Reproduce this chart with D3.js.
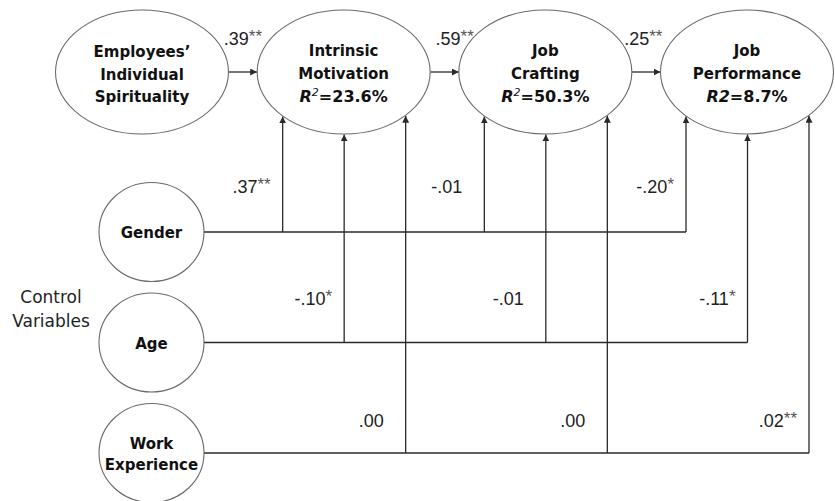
<!DOCTYPE html>
<html><head><meta charset="utf-8">
<script src="https://cdn.jsdelivr.net/npm/d3@7"></script>
<style>
html,body{margin:0;padding:0;background:#fff;}
svg{display:block;}
</style></head>
<body>
<svg id="c" width="835" height="501"></svg>
<script>
// ---- data ----
const mainLabels = [["Employees’","Individual","Spirituality"],["Intrinsic","Motivation"],["Job","Crafting"],["Job","Performance"]];
const r2Values = [null, "23.6%", "50.3%", "8.7%"];
const r2Superscript = [null, true, true, false];
const pathCoefs = [".39", ".59", ".25"];
const pathStars = ["**", "**", "**"];
const controlLabels = [["Gender"],["Age"],["Work","Experience"]];
const controlCoefs = [[".37","-.01","-.20"],["-.10","-.01","-.11"],[".00",".00",".02"]];
const controlStars = [["**","","*"],["*","","*"],["","","**"]];
const sideTitle = ["Control","Variables"];

// ---- layout ----
const svg = d3.select("#c");
const x = d3.scaleLinear().domain([0,3]).range([142,747]);
const rowY = d3.scalePoint().domain([0,1,2]).range([232,453]);
const offX = d3.scalePoint().domain([0,1,2]).range([-61,62]);
const cy = 72, rx = 86.5, ry = 62;
const ctrlX = 151.5, ctrlR = 52.5;
const lineCol = "#2a2a2a", ellCol = "#6a6a6a";
const nodeFont = "DejaVu Sans, Verdana, sans-serif";
const numFont = "Liberation Sans, Arial, sans-serif";

const defs = svg.append("defs");
defs.append("marker").attr("id","ah").attr("viewBox","0 0 10 10").attr("refX",10).attr("refY",5)
  .attr("markerWidth",7).attr("markerHeight",7).attr("markerUnits","userSpaceOnUse").attr("orient","auto")
  .append("path").attr("d","M0,0L10,5L0,10Z").attr("fill",lineCol);

function ellBottom(dx){ return cy + ry*Math.sqrt(Math.max(0,1-(dx/rx)*(dx/rx))); }

// control lines
const gL = svg.append("g").attr("stroke",lineCol).attr("stroke-width",1.3).attr("fill","none");
controlCoefs.forEach((row,k)=>{
  const y = rowY(k);
  const lastX = x(3)+offX(k);
  gL.append("line").attr("x1",ctrlX+ctrlR).attr("y1",y).attr("x2",lastX).attr("y2",y);
  row.forEach((v,j)=>{
    const tx = x(j+1)+offX(k);
    gL.append("line").attr("x1",tx).attr("y1",y).attr("x2",tx).attr("y2",ellBottom(offX(k))+0.5)
      .attr("marker-end","url(#ah)");
  });
});

// main arrows
pathCoefs.forEach((v,i)=>{
  gL.append("line").attr("x1",x(i)+rx).attr("y1",cy).attr("x2",x(i+1)-rx).attr("y2",cy)
    .attr("marker-end","url(#ah)");
});

function boldText(g){
  return g.append("text").attr("text-anchor","middle").attr("font-family",nodeFont)
    .attr("font-weight","bold").attr("font-size",15).attr("fill","#111");
}

// main ellipses
const gN = svg.append("g");
mainLabels.forEach((lines,i)=>{
  gN.append("ellipse").attr("cx",x(i)).attr("cy",cy).attr("rx",rx).attr("ry",ry)
    .attr("fill","#fff").attr("stroke",ellCol).attr("stroke-width",1.1);
  const t = boldText(gN);
  const base = lines.length===3 ? [57,80,102] : [56,79];
  lines.forEach((s,l)=>t.append("tspan").attr("x",x(i)).attr("y",base[l]).text(s));
  if (r2Values[i]) {
    const t2 = boldText(gN).attr("font-size",16).attr("x",x(i)).attr("y",102);
    t2.append("tspan").attr("font-style","italic").text("R");
    if (r2Superscript[i]) {
      t2.append("tspan").attr("font-style","italic").attr("font-weight","normal").attr("font-size",11).attr("dy",-6).text("2");
      t2.append("tspan").attr("dy",6).text("=" + r2Values[i]);
    } else {
      t2.append("tspan").attr("font-style","italic").text("2");
      t2.append("tspan").text("=" + r2Values[i]);
    }
  }
});

// control circles
controlLabels.forEach((lines,k)=>{
  gN.append("ellipse").attr("cx",ctrlX).attr("cy",rowY(k)).attr("rx",ctrlR).attr("ry",49.5)
    .attr("fill","#fff").attr("stroke",ellCol).attr("stroke-width",1.1);
  const t = boldText(gN);
  const base = lines.length===1 ? [rowY(k)+6] : [rowY(k)-4, rowY(k)+17];
  lines.forEach((s,l)=>t.append("tspan").attr("x",ctrlX).attr("y",base[l]).text(s));
});

// side title
const st = svg.append("text").attr("text-anchor","middle").attr("font-family",nodeFont)
  .attr("font-size",17).attr("fill","#222");
sideTitle.forEach((s,l)=>st.append("tspan").attr("x",51).attr("y",303+l*24).text(s));

// coefficient labels
function coef(g, xx, yy, v, stars, anchor){
  const t = g.append("text").attr("x",xx).attr("y",yy).attr("text-anchor",anchor)
    .attr("font-family",numFont).attr("font-size",18).attr("fill","#222");
  t.append("tspan").text(v);
  if (stars) t.append("tspan").attr("font-size",17).attr("dy",-3).attr("fill","#555").text(stars);
}
const gT = svg.append("g");
const pathNudge = [-19, -9, -22];
pathCoefs.forEach((v,i)=>{
  const mid = (x(i)+rx + x(i+1)-rx)/2;
  coef(gT, mid+pathNudge[i], 45, v, pathStars[i], "start");
});
const coefBase = [193, 305, 427];
controlCoefs.forEach((row,k)=>{
  row.forEach((v,j)=>{
    const tx = x(j+1)+offX(k);
    const st = controlStars[k][j];
    coef(gT, tx - (st ? 12 : 22), coefBase[k], v, st, "end");
  });
});
</script>
</body></html>
